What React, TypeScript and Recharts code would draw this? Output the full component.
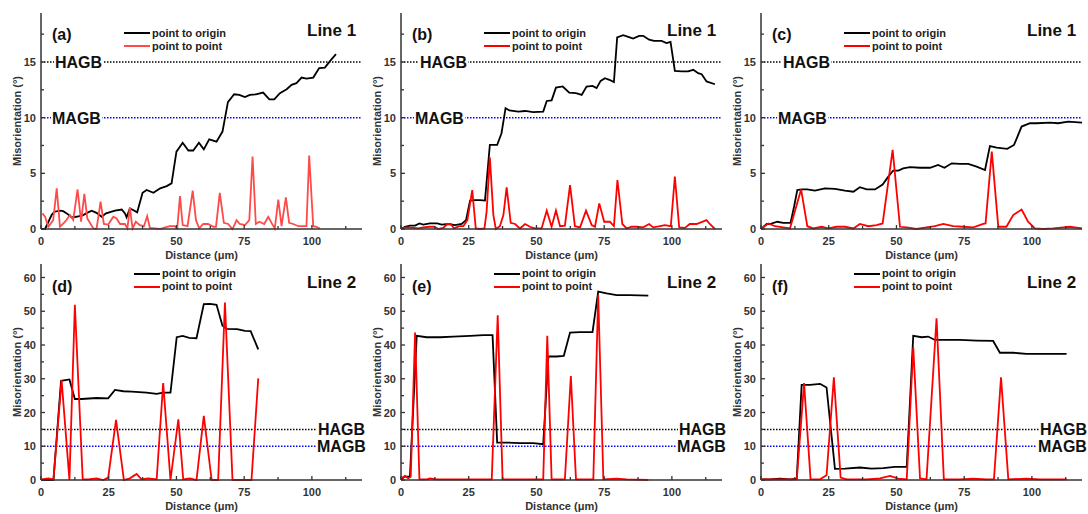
import { LineChart, Line, XAxis, YAxis, ReferenceLine, Legend } from "recharts";

const FONT = "'Liberation Sans', Arial, sans-serif";
const AXIS = "#333";

// ticks
const xMajor = [0, 25, 50, 75, 100];
const xMinor = [12.5, 37.5, 62.5, 87.5, 112.5];
const yMajorTop = [0, 5, 10, 15];
const yMinorTop = [2.5, 7.5, 12.5, 17.5];
const yMajorBottom = [0, 10, 20, 30, 40, 50, 60];
const yMinorBottom = [5, 15, 25, 35, 45, 55];

const seriesNames = ["point to origin", "point to point"];
const HAGB = 15;
const MAGB = 10;

type Pt = [number, number];

// (a) Line 1
const aOrigin: Pt[] = [[0,0],[1.5,0],[4,1.3],[5,1.55],[7,1.65],[8.2,1.6],[9.5,1.4],[11.3,1.05],[13,1.1],[15.6,1.25],[17,1.45],[18.7,1.65],[20.5,1.45],[22.4,1.1],[24,1.4],[27.3,1.65],[29.8,1.75],[31,1.4],[31.6,1.05],[32.8,1.85],[34,1.7],[35.5,1.5],[37.5,3.25],[39,3.5],[41.5,3.25],[44,3.65],[46.4,3.85],[48.2,4.1],[50,6.95],[52.3,7.75],[54.4,7.05],[56.2,7.05],[58.3,7.75],[60.1,7.15],[62.1,8.05],[64.8,7.85],[67,8.75],[69,11.4],[71.3,12.1],[73.2,12.05],[75.3,11.85],[77.1,12.05],[79.3,12.1],[82,12.25],[84.3,11.65],[86.1,11.65],[88.2,12.2],[90.7,12.55],[92.5,12.95],[94.3,13.1],[96.2,13.6],[98,13.5],[100.5,13.6],[102.7,14.45],[104.8,14.5],[106.6,15.05],[108.9,15.7]];
const aPoint: Pt[] = [[0.5,1.4],[1.5,1.1],[2.7,0.2],[4.5,0.8],[5.8,3.65],[7,0.2],[8.9,0.65],[10.7,1.25],[11.9,0.8],[13.5,3.55],[14.8,0.65],[16,3.15],[17.1,0.95],[19.3,0.05],[20.5,0],[22,2.45],[23.2,0.45],[24.8,0.4],[26.7,1.1],[27.9,0.95],[29.2,0.45],[31,0.45],[31.9,0.05],[32.8,1.95],[33.8,0.05],[35,0.65],[36.5,0.35],[38,0.25],[39.2,1.15],[40.2,0.1],[42,0.05],[43.9,0],[45.8,0.15],[47.6,0.25],[49.4,0.25],[50.3,0.05],[51.3,2.95],[52.3,0.35],[54.1,0.25],[56,3.45],[57.2,0.8],[58.4,0.05],[59.9,0.45],[61.7,0.45],[63.6,0.2],[64.6,0.2],[66,3.25],[67.5,0.55],[69.1,0.45],[70.7,0],[72.2,0.8],[73.4,0.45],[75.3,0.35],[76.9,0.8],[78.1,6.5],[79.3,0.45],[80.6,0.65],[82.4,0.45],[83.9,1.1],[85.1,0.55],[86.3,0.05],[87.6,2.65],[88.8,0.25],[90.4,2.85],[91.6,0.55],[93.1,0.45],[95,0.25],[96.8,0.25],[98,0.25],[99,6.6],[100.5,0.25],[101.7,0.2],[102.9,0.05]];

// (b) Line 1
const bOrigin: Pt[] = [[0,0],[1.5,0.2],[3.3,0.3],[5.2,0.3],[6.8,0.5],[8.2,0.4],[10.7,0.5],[13.4,0.5],[15,0.4],[17.5,0.45],[19.9,0.35],[22.4,0.45],[24,0.8],[25.5,2.55],[27.3,2.6],[29.2,2.6],[31,2.55],[32.8,7.55],[35.5,7.55],[37.1,8.6],[38.6,10.85],[40,10.65],[43.3,10.55],[45.8,10.6],[48.8,10.5],[52.5,10.55],[53.8,11.5],[55.6,11.55],[57.2,12.7],[59.7,12.8],[62.1,12.25],[64.6,12.2],[66.7,12.05],[68.5,12.8],[70.7,12.85],[72.2,12.65],[73.7,13.3],[75.3,13.55],[76.9,13.4],[78.6,13.2],[79.8,17.2],[82,17.4],[83.9,17.25],[85.7,17.1],[87.9,17.35],[89.4,17.35],[91.6,17],[93.4,16.9],[96.2,16.9],[98,16.7],[99.5,16.8],[101.1,14.2],[103.6,14.15],[106,14.15],[107.9,14.3],[109.7,14],[111,13.9],[112.8,13.25],[115.9,13]];
const bPoint: Pt[] = [[0.2,0.05],[2.1,0.15],[4.6,0.1],[6.4,0.05],[8.2,0.15],[10.7,0.2],[12.2,0.2],[13.8,0],[15.6,0.1],[17.1,0.45],[18.3,0.45],[19.6,0.05],[21.5,0.25],[23,0.25],[24.5,0.8],[26.3,3.5],[27.6,0.05],[29.2,0],[30.8,0.05],[31.6,1.55],[32.8,6.45],[34.1,1.25],[35,0],[36.5,0.25],[37.8,1.25],[39,3.75],[40.5,0.55],[42.1,0.45],[43.9,0.05],[45.8,0.45],[47.6,0.2],[49.4,0.05],[51.9,0.05],[53.8,1.65],[55.6,0.2],[57.2,1.65],[58.7,0.25],[60.5,0.3],[62.4,3.95],[64.2,0.25],[66.1,0.15],[68.3,1.65],[70.4,0.35],[71.6,0.2],[73.2,2.3],[75,0.65],[77.1,0.65],[78.6,0.25],[79.9,4.4],[81.7,0.45],[83.3,0.05],[85.1,0.2],[87,0.2],[89.4,0.15],[91.6,0.45],[93.1,0.15],[95.6,0.25],[97.4,0.35],[99.6,0.25],[101.1,4.7],[102.7,0.15],[104.8,0.1],[106.6,0.45],[109.1,0.45],[112.8,0.8],[114,0.45],[115.9,0]];

// (c) Line 1
const cOrigin: Pt[] = [[0,0],[2.1,0.45],[3.3,0.45],[6,0.65],[8.2,0.55],[10.9,0.55],[12.2,2],[13.4,3.5],[15,3.55],[17.1,3.55],[19.9,3.45],[23.6,3.65],[27.3,3.6],[31,3.45],[34.1,3.35],[36.5,3.75],[39,3.55],[42.1,3.55],[44.9,4],[47,4.7],[48.8,5.25],[50.7,5.25],[52.5,5.45],[55,5.55],[58.7,5.5],[62.4,5.5],[65.4,5.75],[67.7,5.5],[70.4,5.9],[73.4,5.85],[76.5,5.85],[79.6,5.6],[82.7,5.3],[84.5,7.45],[87,7.3],[90.9,7.2],[93.4,7.55],[96.2,9.2],[99.3,9.5],[101.7,9.5],[106.6,9.55],[109.7,9.5],[113.4,9.65],[118.5,9.55]];
const cPoint: Pt[] = [[0,0],[2.7,0.5],[5.2,0.25],[8.2,0.15],[10.7,0.05],[14.8,3.55],[17.1,0.25],[19.3,0.05],[22.4,0.2],[24.8,0.05],[27.9,0.2],[31,0.2],[34.1,0.05],[36.5,0.45],[39.6,0.25],[42.7,0.35],[44.9,0.5],[48.6,7.1],[51.3,0.2],[53.8,0.15],[57.4,0],[61.1,0.15],[64.2,0.25],[67.3,0.45],[70.9,0.25],[74.6,0.2],[78.4,0.15],[82,0.45],[82.9,0.5],[85.2,6.95],[87.6,0.2],[90.6,0.2],[93.1,1.25],[96.2,1.75],[98.6,0.65],[101.1,0.05],[104.2,0],[107.9,0.05],[111.6,0.15],[114,0.2],[118.5,0.05]];

// (d) Line 2
const dOrigin: Pt[] = [[0,0],[4.6,0],[7.4,29.4],[10.5,29.8],[12.5,24],[15,24],[20.5,24.3],[24.8,24.2],[27.3,26.7],[30.4,26.3],[33.5,26.2],[39,25.9],[42.7,25.5],[45.1,25.9],[47.8,25.9],[50.1,42.3],[52.3,42.7],[54.7,42.1],[57.4,42],[60.1,52.1],[62.4,52.2],[64.8,51.9],[67,45.7],[68.5,44.8],[72.4,44.7],[75.3,44.2],[77.4,44.1],[80.2,38.7]];
const dPoint: Pt[] = [[0.2,0.2],[2.7,0.5],[4.6,0.2],[7.6,29.6],[10.5,0],[12.5,51.9],[15.4,0.2],[17.5,0.2],[20.5,0.5],[23,0],[24.8,0.7],[27.7,17.8],[30.6,0],[32.8,0.5],[35.3,1.8],[37.1,0.2],[39.6,0.5],[42.7,0.2],[45.1,28.7],[47.8,0],[50.7,18],[52.5,0.2],[55,0.5],[57.4,0],[60.1,19],[63,0],[65.4,0],[67.9,52.6],[70.7,0],[73.4,0],[77.7,0],[80.2,30.1]];

// (e) Line 2
const eOrigin: Pt[] = [[0.2,0.2],[1.2,1],[3.3,1],[5.8,42.7],[9.5,42.3],[14.4,42.3],[19.3,42.5],[25.5,42.7],[30.4,42.9],[33.8,42.9],[35.5,11.1],[39,11.1],[43.9,10.9],[48.8,10.9],[52.5,10.6],[54.4,36.6],[57.4,36.6],[60.1,36.8],[62.4,43.7],[66,43.8],[70.7,43.8],[72.8,55.8],[75.9,55.3],[79.6,54.8],[84.5,54.8],[91.3,54.6]];
const ePoint: Pt[] = [[0.2,0.5],[1.5,1.2],[2.7,0.5],[3.6,1],[5.2,43.7],[6.8,0.2],[9.5,0.2],[10.7,0.5],[13.2,0.2],[19.3,0.2],[25.5,0.2],[33.5,0.2],[35.7,48.8],[37.5,0.2],[42.7,0.2],[50.1,0.2],[52.5,0.2],[54,42.7],[55.6,0.2],[60.5,0.2],[62.7,30.8],[64.6,0.2],[71,0.2],[72.8,54.8],[74.7,0.2],[79.6,0.4],[83.3,0.2],[91.3,0]];

// (f) Line 2
const fOrigin: Pt[] = [[0.2,0.2],[3.3,0.2],[7,0.4],[10.7,0.2],[13.2,0.4],[15,28.2],[18.1,28.2],[21.8,28.5],[24.2,27.4],[27.3,3.3],[31,3.4],[36.5,3.7],[40.8,3.4],[45.1,3.5],[49.4,3.9],[53.8,3.9],[56.2,42.7],[59.3,42.3],[61.7,42.5],[64.2,41.5],[68.5,41.5],[73.4,41.5],[79.6,41.3],[85.7,41.2],[88.2,37.7],[93.1,37.7],[98,37.4],[103,37.4],[112.8,37.4]];
const fPoint: Pt[] = [[0.2,0.2],[4.6,0.2],[9.5,0.2],[13.2,0.2],[15.9,28.7],[18.3,0.2],[21.8,0.2],[24.2,1.4],[26.9,30.4],[29.4,0.7],[31.6,0.2],[39,0.2],[43.9,0.5],[47.6,1.2],[50.7,0.4],[53.8,0.2],[56.2,39.3],[58.7,0.5],[61.1,0.2],[64.8,47.9],[67.5,0.2],[73.4,0.2],[78.4,0.4],[83.3,0.2],[86,0.2],[88.6,30.4],[91.3,0.2],[98,0.4],[103,0.2],[112.8,0.2]];

const toRows = (pts: Pt[]) => pts.map(([x, y]) => ({ x, y }));

const makeXTick = (majors: number[]) => (props: any) => {
  const { x, y, payload } = props;
  const major = majors.includes(payload.value);
  return (
    <g>
      <line x1={x} x2={x} y1={y} y2={y - (major ? 4 : 3)} stroke={AXIS} strokeWidth={1.3} />
      {major && (
        <text x={x} y={y + 16} textAnchor="middle" fontSize={11} fontWeight="bold" fill="#333" fontFamily={FONT}>
          {payload.value}
        </text>
      )}
    </g>
  );
};

const makeYTick = (majors: number[]) => (props: any) => {
  const { x, y, payload } = props;
  const major = majors.includes(payload.value);
  return (
    <g>
      <line x1={x} x2={x + (major ? 4 : 3)} y1={y} y2={y} stroke={AXIS} strokeWidth={1.3} />
      {major && (
        <text x={x - 5} y={y + 4} textAnchor="end" fontSize={11} fontWeight="bold" fill="#333" fontFamily={FONT}>
          {payload.value}
        </text>
      )}
    </g>
  );
};

function GbLabel(props: any) {
  const { viewBox, text, dx } = props;
  const x = viewBox.x + dx;
  const y = viewBox.y;
  return (
    <g>
      <rect x={x - 1} y={y - 7} width={text === "MAGB" ? 51 : 49} height={14} fill="#fff" />
      <text x={x} y={y + 6} fontSize={16} fontWeight="bold" fill="#111" fontFamily={FONT}>
        {text}
      </text>
    </g>
  );
}

const renderLegend = (props: any) => (
  <div style={{ fontFamily: FONT, fontSize: 11, fontWeight: "bold", color: "#222", lineHeight: "13px" }}>
    {props.payload.map((p: any) => (
      <div key={p.value} style={{ display: "flex", alignItems: "center", whiteSpace: "nowrap" }}>
        <span style={{ display: "inline-block", width: 26, height: 2, background: p.color, marginRight: 2 }} />
        {p.value}
      </div>
    ))}
  </div>
);

type PanelProps = {
  left: number;
  top: number;
  bottomRow: boolean;
  origin: Pt[];
  point: Pt[];
  red: string;
  tag: string;
  line: string;
  hagbDx: number;
  magbDx: number;
};

function Panel({ left, top, bottomRow, origin, point, red, tag, line, hagbDx, magbDx }: PanelProps) {
  const yMax = bottomRow ? 64 : 19.4;
  const yMajor = bottomRow ? yMajorBottom : yMajorTop;
  const yTicks = [...yMajor, ...(bottomRow ? yMinorBottom : yMinorTop)];
  const height = bottomRow ? 257 : 270;
  const marginTop = bottomRow ? 7 : 13;
  const xAxisHeight = bottomRow ? 34 : 41;

  return (
    <div style={{ position: "absolute", left, top, width: 370, height }}>
      <LineChart width={370} height={height} margin={{ top: marginTop, right: 8, bottom: 0, left: 0 }}>
        <XAxis
          dataKey="x"
          type="number"
          domain={[0, 118.5]}
          ticks={[...xMajor, ...xMinor]}
          interval={0}
          height={xAxisHeight}
          tickSize={0}
          tickMargin={0}
          tickLine={false}
          tick={makeXTick(xMajor)}
          axisLine={{ stroke: AXIS, strokeWidth: 1.5 }}
          label={(p: any) => (
            <text
              x={p.viewBox.x + p.viewBox.width / 2}
              y={p.viewBox.y + 30}
              textAnchor="middle"
              fontSize={11}
              fontWeight="bold"
              fill="#333"
              fontFamily={FONT}
            >
              Distance (μm)
            </text>
          )}
        />
        <XAxis xAxisId="t" orientation="top" type="number" domain={[0, 118.5]} height={0} tick={false} tickLine={false} axisLine={{ stroke: AXIS, strokeWidth: 1.5 }} />
        <YAxis
          type="number"
          domain={[0, yMax]}
          ticks={yTicks}
          interval={0}
          width={41}
          tickSize={0}
          tickMargin={0}
          tickLine={false}
          tick={makeYTick(yMajor)}
          axisLine={{ stroke: AXIS, strokeWidth: 1.5 }}
          label={(p: any) => {
            const cy = p.viewBox.y + p.viewBox.height / 2;
            return (
              <text
                x={21}
                y={cy}
                transform={`rotate(-90, 21, ${cy})`}
                textAnchor="middle"
                fontSize={11}
                fontWeight="bold"
                fill="#333"
                fontFamily={FONT}
              >
                Misorientation (°)
              </text>
            );
          }}
        />
        <YAxis yAxisId="r" orientation="right" type="number" domain={[0, yMax]} width={0} tick={false} tickLine={false} axisLine={{ stroke: AXIS, strokeWidth: 1.5 }} />
        <ReferenceLine y={HAGB} stroke="#000" strokeWidth={1.5} strokeDasharray="1.5 1.5" label={<GbLabel text="HAGB" dx={hagbDx} />} />
        <ReferenceLine y={MAGB} stroke="#0000ff" strokeWidth={1.5} strokeDasharray="1.5 1.5" label={<GbLabel text="MAGB" dx={magbDx} />} />
        <Line data={toRows(origin)} dataKey="y" name={seriesNames[0]} stroke="#000" strokeWidth={1.8} dot={false} isAnimationActive={false} />
        <Line data={toRows(point)} dataKey="y" name={seriesNames[1]} stroke={red} strokeWidth={1.8} dot={false} isAnimationActive={false} />
        <Legend
          layout="vertical"
          align="center"
          verticalAlign="middle"
          content={renderLegend}
          wrapperStyle={{ position: "absolute", top: bottomRow ? 10 : 26.5, left: bottomRow ? 134 : 124, width: "auto" }}
        />
      </LineChart>
      <div style={{ position: "absolute", left: 52, top: bottomRow ? 21.5 : 27, fontFamily: FONT, fontSize: 16, fontWeight: "bold", lineHeight: "16px", color: "#111" }}>
        {tag}
      </div>
      <div style={{ position: "absolute", left: 307, top: bottomRow ? 16.5 : 22, fontFamily: FONT, fontSize: 17, fontWeight: "bold", lineHeight: "17px", color: "#111", whiteSpace: "nowrap" }}>
        {line}
      </div>
    </div>
  );
}

export default function App() {
  return (
    <div style={{ position: "absolute", left: 0, top: 0, width: 1088, height: 514, background: "#fff", overflow: "hidden" }}>
      <Panel left={0} top={0} bottomRow={false} origin={aOrigin} point={aPoint} red="#ff4a4a" tag="(a)" line="Line 1" hagbDx={14} magbDx={11} />
      <Panel left={360} top={0} bottomRow={false} origin={bOrigin} point={bPoint} red="#ff0000" tag="(b)" line="Line 1" hagbDx={19} magbDx={14} />
      <Panel left={720} top={0} bottomRow={false} origin={cOrigin} point={cPoint} red="#ff0000" tag="(c)" line="Line 1" hagbDx={22} magbDx={17} />
      <Panel left={0} top={257} bottomRow origin={dOrigin} point={dPoint} red="#ff0000" tag="(d)" line="Line 2" hagbDx={277} magbDx={276} />
      <Panel left={360} top={257} bottomRow origin={eOrigin} point={ePoint} red="#ff0000" tag="(e)" line="Line 2" hagbDx={278} magbDx={276} />
      <Panel left={720} top={257} bottomRow origin={fOrigin} point={fPoint} red="#ff0000" tag="(f)" line="Line 2" hagbDx={279} magbDx={277} />
    </div>
  );
}
